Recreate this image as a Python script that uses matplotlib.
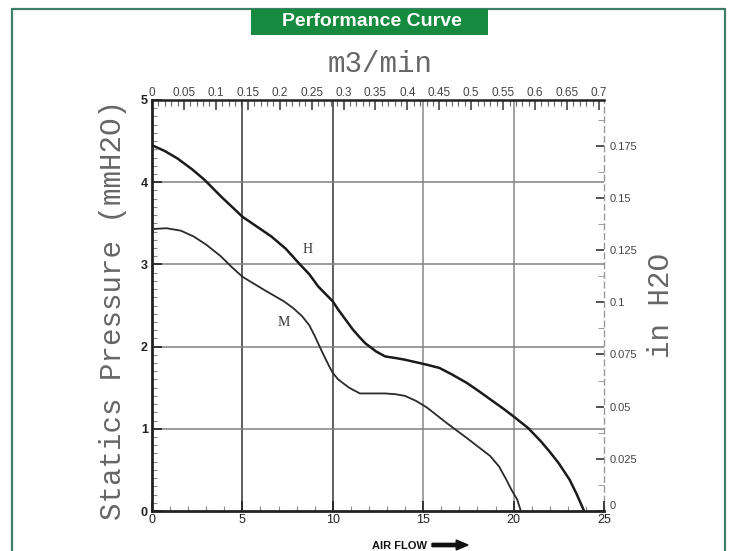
import matplotlib
matplotlib.use("Agg")
import matplotlib.pyplot as plt
import numpy as np
from matplotlib.patches import Rectangle, FancyArrow

# ---- data (CFM vs mmH2O) ----
h_flow = [0, 0.7, 1.4, 2.2, 2.9, 3.8, 5.0, 5.8, 6.6, 7.4, 8.1, 8.7, 9.2, 9.6, 10.0, 10.3, 10.7, 11.1,
          11.5, 11.8, 12.4, 12.9, 13.5, 14.0, 14.6, 15.2, 15.9, 16.6, 17.4, 18.0, 18.7, 19.4, 20.0,
          20.8, 21.5, 22.0, 22.5, 23.1, 23.5, 23.9]
h_press = [4.45, 4.38, 4.29, 4.16, 4.03, 3.83, 3.58, 3.46, 3.34, 3.19, 3.02, 2.88, 2.73, 2.64, 2.55,
           2.45, 2.33, 2.21, 2.11, 2.04, 1.94, 1.88, 1.86, 1.84, 1.81, 1.78, 1.74, 1.66, 1.56, 1.47,
           1.36, 1.25, 1.15, 1.01, 0.85, 0.72, 0.58, 0.38, 0.2, 0.0]
m_flow = [0, 0.8, 1.6, 2.3, 3.0, 3.8, 4.4, 5.0, 6.2, 7.3, 7.8, 8.3, 8.7, 9.0, 9.4, 9.8, 10.0, 10.3,
          10.9, 11.5, 12.2, 12.9, 13.5, 14.0, 14.6, 15.2, 16.3, 17.4, 18.7, 19.2, 19.6, 19.9, 20.2,
          20.4]
m_press = [3.43, 3.44, 3.41, 3.34, 3.24, 3.10, 2.97, 2.85, 2.69, 2.55, 2.47, 2.37, 2.26, 2.13, 1.94,
           1.76, 1.68, 1.60, 1.50, 1.43, 1.43, 1.43, 1.42, 1.40, 1.34, 1.26, 1.07, 0.89, 0.67, 0.54,
           0.38, 0.25, 0.14, 0.0]
curve_labels = ["H", "M"]
x_ticks = [0, 5, 10, 15, 20, 25]
y_ticks = [0, 1, 2, 3, 4, 5]
top_ticks = [0, 0.05, 0.1, 0.15, 0.2, 0.25, 0.3, 0.35, 0.4, 0.45, 0.5, 0.55, 0.6, 0.65, 0.7]
top_labels = ["0", "0.05", "0.1", "0.15", "0.2", "0.25", "0.3", "0.35", "0.4", "0.45",
              "0.5", "0.55", "0.6", "0.65", "0.7"]
right_ticks = [0, 0.025, 0.05, 0.075, 0.1, 0.125, 0.15, 0.175]
right_labels = ["0", "0.025", "0.05", "0.075", "0.1", "0.125", "0.15", "0.175"]

CFM_TO_M3 = 0.0283168
MM_TO_IN = 1 / 25.4

fig = plt.figure(figsize=(7.36, 5.51), dpi=100)
W, H = 736, 551

def fx(px):
    return px / W

def fy(py):
    return 1 - py / H

# outer green frame
fig.add_artist(Rectangle((fx(12), fy(560)), fx(713), fy(9) - fy(560), transform=fig.transFigure,
                         fill=False, edgecolor="#3f7f6a", linewidth=1.6))
# title box
fig.add_artist(Rectangle((fx(251), fy(35)), fx(237), fy(9) - fy(35), transform=fig.transFigure,
                         facecolor="#168a3e", edgecolor="none"))
fig.text(fx(372), fy(22), "Performance Curve", color="white", fontsize=14, fontweight="bold",
         ha="center", va="center", family=["Liberation Sans", "DejaVu Sans"])

ax = fig.add_axes([fx(152), fy(511), fx(604) - fx(152), fy(100) - fy(511)])
ax.set_xlim(0, 25)
ax.set_ylim(0, 5)

for gx in [5, 10, 15, 20]:
    ax.axvline(gx, color="#333333" if gx in (5, 10) else "#888888", lw=1.1, zorder=1)
for gy in [1, 2, 3, 4]:
    ax.axhline(gy, color="#808080", lw=1.1, zorder=1)

ax.plot(h_flow, h_press, color="#1a1a1a", lw=1.8, zorder=3)
ax.plot(m_flow, m_press, color="#2a2a2a", lw=1.3, zorder=3)
ax.text(8.6, 3.18, curve_labels[0], fontsize=10, family="Liberation Serif", color="#333",
        ha="center", va="center")
ax.text(7.3, 2.29, curve_labels[1], fontsize=10, family="Liberation Serif", color="#333",
        ha="center", va="center")

ax.set_xticks(x_ticks)
ax.set_yticks(y_ticks)
ax.set_xticks(np.arange(0, 25.01, 1), minor=True)
ax.set_yticks(np.arange(0, 5.01, 0.1), minor=True)
ax.tick_params(axis="both", which="major", direction="in", length=7, width=1.2,
               labelsize=9, colors="#222", top=False, right=False)
ax.tick_params(axis="both", which="minor", direction="in", length=3.5, width=0.8,
               color="#888", top=False, right=False)
for lab in ax.get_yticklabels():
    lab.set_family("Liberation Sans")
    lab.set_fontweight("bold")
for lab in ax.get_xticklabels():
    lab.set_family("Liberation Sans")
ax.tick_params(axis="x", pad=2)
ax.tick_params(axis="y", pad=3)

for s in ["left", "bottom"]:
    ax.spines[s].set_linewidth(2.0)
    ax.spines[s].set_color("#222")
ax.spines["top"].set_linewidth(1.8)
ax.spines["top"].set_color("#222")
ax.spines["right"].set_visible(False)

# top axis: m3/min
top = ax.secondary_xaxis("top", functions=(lambda x: x * CFM_TO_M3, lambda x: x / CFM_TO_M3))
top.set_xticks(top_ticks)
top.set_xticklabels(top_labels)
top.set_xticks(np.arange(0, 0.701, 0.01), minor=True)
top.tick_params(axis="x", which="major", direction="in", length=7, width=1.2, labelsize=8.5,
                colors="#444", pad=1)
top.tick_params(axis="x", which="minor", direction="in", length=4, width=0.8, color="#666")
top.spines["top"].set_visible(False)
for lab in top.get_xticklabels():
    lab.set_family(["Liberation Sans Narrow", "Liberation Sans"])

# right axis: inH2O
right = ax.secondary_yaxis("right", functions=(lambda y: y * MM_TO_IN, lambda y: y / MM_TO_IN))
right.set_yticks(right_ticks)
right.set_yticklabels(right_labels)
right.set_yticks(np.arange(0.0125, 0.19, 0.025), minor=True)
right.tick_params(axis="y", which="major", direction="in", length=6, width=1.3, labelsize=8,
                  colors="#444", pad=4)
right.tick_params(axis="y", which="minor", direction="in", length=4, width=0.7, color="#999")
right.spines["right"].set_linestyle((0, (4, 3)))
right.spines["right"].set_color("#999")
right.spines["right"].set_linewidth(1.0)
for lab in right.get_yticklabels():
    lab.set_family(["Liberation Sans Narrow", "Liberation Sans"])
right.get_yticklabels()[0].set_va("bottom")

# axis titles
mono = ["Liberation Mono", "DejaVu Sans Mono"]
fig.text(fx(380), fy(64), "m3/min", fontsize=21, family=mono, color="#666",
         ha="center", va="center")
fig.text(fx(113), fy(310), "Statics Pressure (mmH2O)", fontsize=21, family=mono, color="#666",
         rotation=90, ha="center", va="center")
fig.text(fx(661), fy(305), "in H2O", fontsize=21, family=mono, color="#666",
         rotation=90, ha="center", va="center")
fig.text(fx(400), fy(546), "AIR FLOW", fontsize=8, fontweight="bold", color="#111",
         ha="center", va="center", family=["Liberation Sans", "DejaVu Sans"])
fig.add_artist(FancyArrow(fx(432), fy(545), fx(36), 0, width=0.006, head_width=0.018,
                          head_length=0.016, length_includes_head=True,
                          transform=fig.transFigure, color="#111"))

fig.savefig("out.png", dpi=100)
